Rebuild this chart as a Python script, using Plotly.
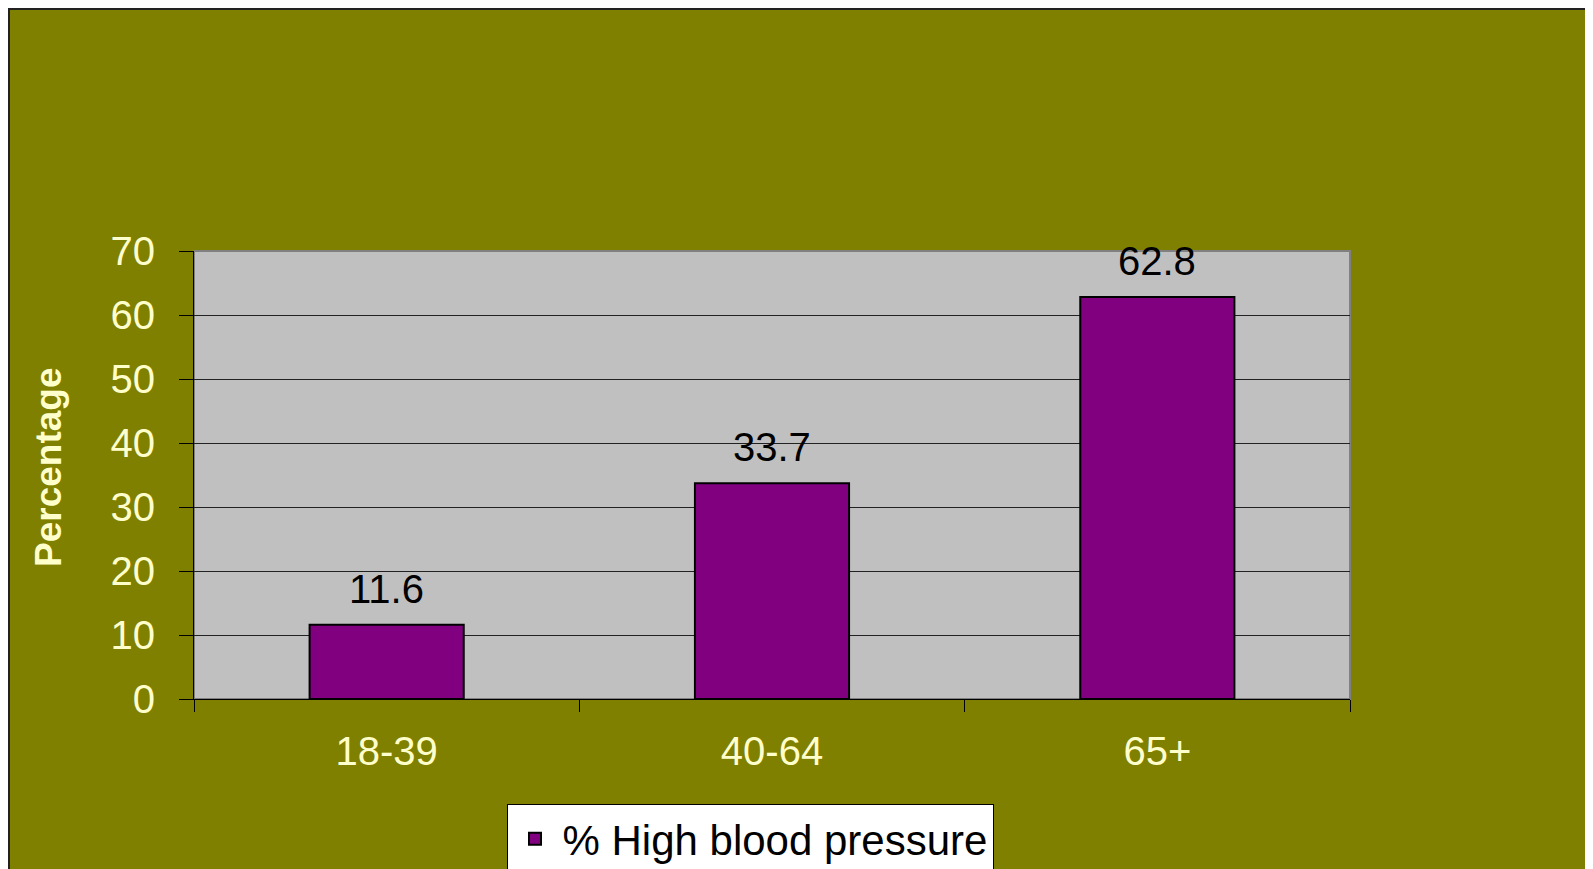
import plotly.graph_objects as go

categories = ["18-39", "40-64", "65+"]
values = [11.6, 33.7, 62.8]
series_name = "% High blood pressure"
y_title = "Percentage"
y_ticks = [0, 10, 20, 30, 40, 50, 60, 70]

OFF = 7  # page body margin offset
W, H = 1593 - OFF, 869
L = 193 - OFF
T = 250 - OFF
PW = 1349 - 193
PH = 698 - 250
R = W - L - PW
B = H - T - PH

FONT = "Arial, Liberation Sans, sans-serif"
LABEL_COLOR = "#FFFFCC"
FS = 40

fig = go.Figure()
fig.add_trace(go.Bar(
    x=categories, y=values, name=series_name,
    marker=dict(color="#800080", line=dict(color="black", width=2)),
    width=0.4, showlegend=True,
))

for c, v in zip(categories, values):
    fig.add_annotation(x=c, y=v, text=f"{v}", showarrow=False,
                       yanchor="bottom", yshift=12,
                       font=dict(family=FONT, size=FS, color="black"))

fig.add_annotation(xref="paper", yref="paper",
                   x=(47 - 193) / PW, y=(698 - 466) / PH,
                   xanchor="center", yanchor="middle",
                   text=f"<b>{y_title}</b>", textangle=-90, showarrow=False,
                   font=dict(family=FONT, size=37, color=LABEL_COLOR))

# dark frame lines at top / left of the chart area
fig.add_shape(type="line", xref="paper", yref="paper",
              xsizemode="pixel", ysizemode="pixel",
              xanchor=0, yanchor=0, x0=-L, x1=PW + R, y0=PH + T - 1, y1=PH + T - 1,
              line=dict(color="#222222", width=2), layer="above")
fig.add_shape(type="line", xref="paper", yref="paper",
              xsizemode="pixel", ysizemode="pixel",
              xanchor=0, yanchor=0, x0=-L + 1, x1=-L + 1, y0=-B, y1=PH + T,
              line=dict(color="#222222", width=2), layer="above")
# plot area border (grey)
fig.add_shape(type="rect", xref="paper", yref="paper", x0=0, x1=1, y0=0, y1=1,
              line=dict(color="#808080", width=2), fillcolor="rgba(0,0,0,0)", layer="below")

fig.update_layout(
    width=W, height=H,
    margin=dict(l=L, r=R, t=T, b=B, autoexpand=False),
    paper_bgcolor="#808000", plot_bgcolor="#C0C0C0",
    font=dict(family=FONT, size=FS, color=LABEL_COLOR),
    bargap=0.6,
    legend=dict(x=(749 - 193) / PW, y=(698 - 803) / PH, xanchor="center", yanchor="top",
                orientation="h", bgcolor="white", bordercolor="black", borderwidth=1,
                itemwidth=45,
                font=dict(family=FONT, size=42, color="black")),
    xaxis=dict(type="category", tickson="boundaries", ticks="outside", ticklen=12,
               tickcolor="black", tickwidth=1, showline=True, linecolor="black", linewidth=1,
               showgrid=False, ticklabelstandoff=17,
               tickfont=dict(family=FONT, size=FS, color=LABEL_COLOR)),
    yaxis=dict(range=[0, 70], tickvals=y_ticks, ticks="outside", ticklen=14,
               tickcolor="black", tickwidth=1, showline=True, linecolor="black", linewidth=1,
               showgrid=True, gridcolor="#222222", gridwidth=1, zeroline=False,
               ticklabelstandoff=16,
               tickfont=dict(family=FONT, size=FS, color=LABEL_COLOR)),
)

fig.write_html("out.html")
